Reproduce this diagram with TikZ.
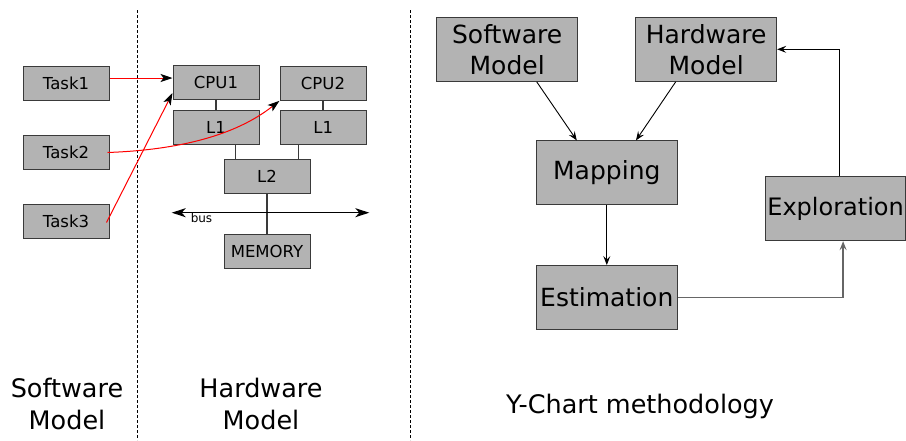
\documentclass[tikz,border=0pt]{standalone}
\usepackage{fontspec}
\setmainfont{DejaVu Sans}
\usetikzlibrary{arrows.meta}
\definecolor{boxfill}{HTML}{B3B3B3}
\definecolor{boxline}{HTML}{3A3A3A}
\begin{document}
\begin{tikzpicture}[x=1pt,y=-1pt,
  smallbox/.style={draw=boxline, fill=boxfill, line width=1pt, inner sep=0pt,
    minimum width=86pt, minimum height=34pt, font=\fontsize{16.5}{20}\selectfont},
  bigbox/.style={draw=boxline, fill=boxfill, line width=1pt, inner sep=0pt,
    minimum width=141pt, minimum height=64pt, align=center,
    font=\fontsize{25}{31}\selectfont},
  link/.style={draw=boxline, line width=1.1pt},
  redarrow/.style={red, line width=1pt, -{Stealth[length=12pt,width=8pt,inset=3pt,color=black]}},
  flow/.style={black, line width=0.9pt, -{Stealth[length=9pt,width=7pt,inset=3.5pt]}},
  sep/.style={black, line width=0.8pt, dash pattern=on 3pt off 2pt},
  label/.style={align=center, font=\fontsize{25.5}{32}\selectfont}
]
\useasboundingbox (0,0) rectangle (906,440);

% separators
\coordinate (s1t) at (137,10); \coordinate (s1b) at (137,440);
\coordinate (s2t) at (410,10); \coordinate (s2b) at (410,440);
\draw[sep] (s1t) -- (s1b);
\draw[sep] (s2t) -- (s2b);

% software tasks
\node[smallbox] (task1) at (66,83) {Task1};
\node[smallbox] (task2) at (66,152.5) {Task2};
\node[smallbox] (task3) at (66,221.5) {Task3};

% hardware
\node[smallbox] (cpu1) at (216,82.5) {CPU1};
\node[smallbox] (cpu2) at (323,83.3) {CPU2};
\node[smallbox] (l1a) at (216,127.5) {L1};
\node[smallbox] (l1b) at (323.3,127.5) {L1};
\node[smallbox] (l2) at (267,176.3) {L2};
\node[smallbox] (mem) at (267,251.7) {MEMORY};

\draw[link] (cpu1.south) -- (l1a.north);
\draw[link] (cpu2.south) -- (cpu2.south |- l1b.north);
\draw[link] ([xshift=19.7pt]l1a.south) -- ([xshift=19.7pt]l1a.south |- l2.north);
\draw[link] ([xshift=-24.6pt]l1b.south) -- ([xshift=-24.6pt]l1b.south |- l2.north);
\draw[link] (l2.south) -- (mem.north);

% bus
\coordinate (busL) at (171.7,212.7);
\coordinate (busR) at (369.3,212.7);
\draw[black, line width=1.1pt, {Stealth[length=14pt,width=9pt,inset=4pt]}-{Stealth[length=14pt,width=9pt,inset=4pt]}] (busL) -- (busR);
\node[font=\fontsize{12}{14}\selectfont, inner sep=0pt] (buslabel) at (201.5,218.5) {bus};

% mapping arrows
\draw[redarrow] ([yshift=5pt]task1.east) -- ([yshift=5pt]task1.east -| cpu1.west);
\draw[redarrow] ([xshift=-2pt]task2.east) .. controls (205,149) and (250,124) .. (cpu2.south west);
\draw[redarrow] ([xshift=-3pt,yshift=-1pt]task3.east) -- ([yshift=7pt]cpu1.south west);

% Y-chart
\node[bigbox] (sw) at (507.2,49.3) {Software\\Model};
\node[bigbox] (hw) at (706.2,49.3) {Hardware\\Model};
\node[bigbox] (map) at (606.8,172.9) {Mapping};
\node[bigbox] (est) at (606.8,297.5) {Estimation};
\node[bigbox, minimum width=139.5pt, font=\fontsize{24}{30}\selectfont] (exp) at (835.6,208.7) {Exploration};

\draw[flow] ([xshift=29.5pt]sw.south) -- ([xshift=-30pt]map.north);
\draw[flow] ([xshift=-30.5pt]hw.south) -- ([xshift=29.2pt]map.north);
\draw[flow] (map.south) -- (est.north);
\draw[flow, draw=black!60, line width=1.4pt] (est.east) -| ([xshift=7.5pt]exp.south);
\draw[flow] ([xshift=3.5pt]exp.north) |- (hw.east);

% labels
\node[label] (swlabel) at (67,404) {Software\\Model};
\node[label] (hwlabel) at (261,404) {Hardware\\Model};
\node[label] (ylabel) at (640,406) {Y-Chart methodology};
\end{tikzpicture}
\end{document}
